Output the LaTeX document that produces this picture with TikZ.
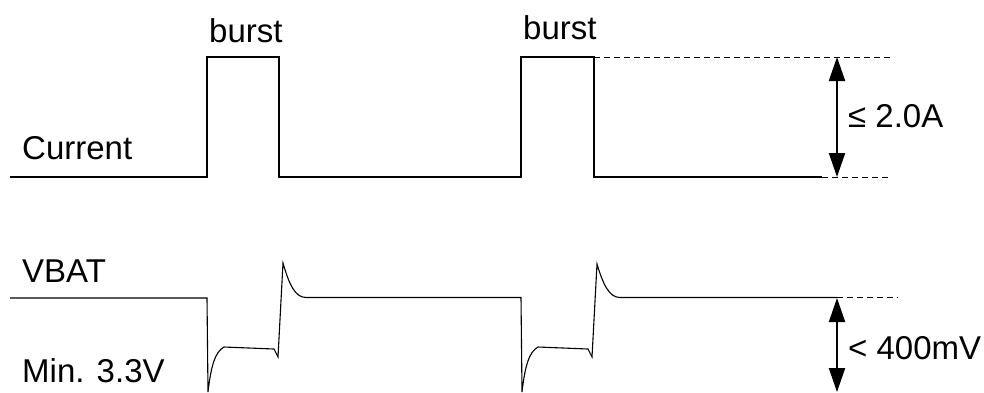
\documentclass[tikz,border=0pt]{standalone}
\usepackage{fontspec}
\setmainfont{Liberation Sans}
\usetikzlibrary{arrows.meta}
\begin{document}
\begin{tikzpicture}[x=1pt,y=-1pt,
  wave/.style={line width=1.1pt,line join=miter},
  guide/.style={line width=0.9pt,dash pattern=on 6pt off 4pt},
  dim/.style={line width=2pt,{Triangle[length=24pt,width=16pt]}-{Triangle[length=24pt,width=16pt]}},
  lbl/.style={anchor=base west,inner sep=0pt,font=\fontsize{33}{40}\selectfont}]
\useasboundingbox (0,0) rectangle (984,392);
% current waveform
\draw[wave] (10,177) -- (207,177) -- (207,57) -- (279,57) -- (279,177) -- (521,177)
  -- (521,57) -- (594,57) -- (594,177) -- (822,177);
\draw[guide] (822,177) -- (890,177);
\draw[guide] (594,57) -- (893,57);
% VBAT waveform
\draw[wave] (10,298) -- (207,298) -- (208,392)
  .. controls (211,366) and (215,352) .. (224,347)
  -- (274,349) -- (278,357) -- (283,263)
  .. controls (289,284) and (295,297.5) .. (306,297.5)
  -- (521,297.5) -- (522,392)
  .. controls (525,366) and (529,352) .. (538,347)
  -- (588,349) -- (592,357) -- (597,264)
  .. controls (603,284) and (609,297.5) .. (620,297.5)
  -- (837,297.5);
\draw[guide] (837,297.5) -- (898,297.5);
% dimension arrows
\coordinate (itop) at (837,57);
\coordinate (ibot) at (837,177);
\coordinate (vtop) at (837,298);
\coordinate (vbot) at (837,392);
\draw[dim] (itop) -- (ibot);
\draw[dim] (vtop) -- (vbot);
% labels
\node[lbl] (b1) at (209,42) {burst};
\node[lbl] (b2) at (523,39) {burst};
\node[lbl] (cur) at (22,159) {Current};
\node[lbl] (vbat) at (22,282) {VBAT};
\node[lbl] (vmin) at (22,382) {Min. 3.3V};
\node[lbl] (ia) at (848,127) {≤ 2.0A};
\node[lbl] (mv) at (848,359) {< 400mV};
\end{tikzpicture}
\end{document}
